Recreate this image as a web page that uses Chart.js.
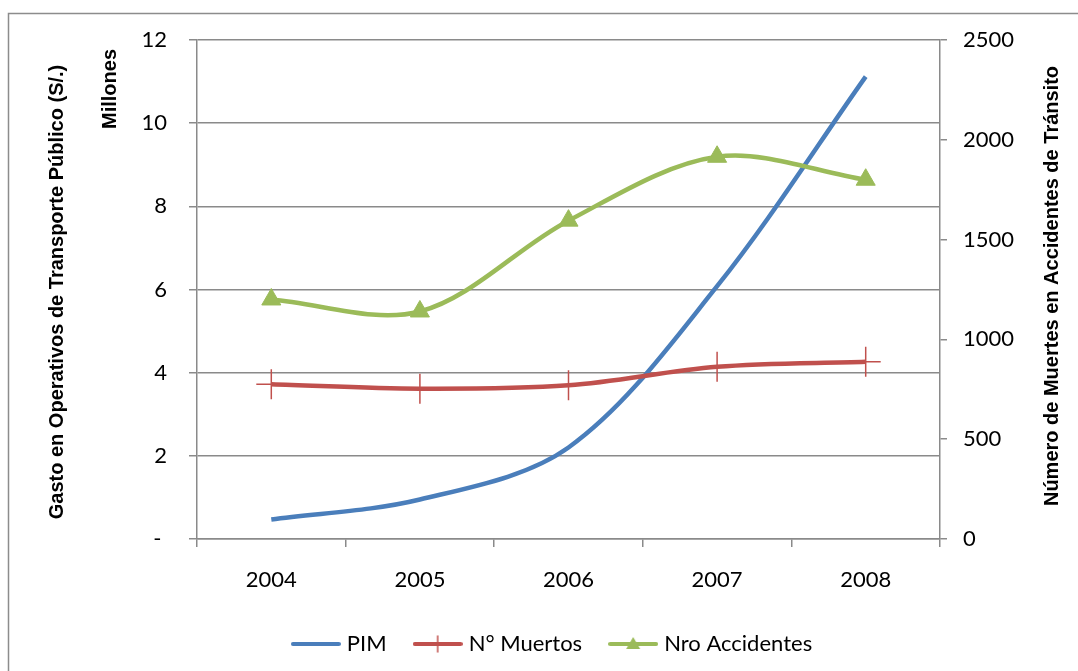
<!DOCTYPE html>
<html>
<head>
<meta charset="utf-8">
<script src="https://cdn.jsdelivr.net/npm/chart.js@4.4.1/dist/chart.umd.min.js"></script>
<style>
  html, body { margin: 0; padding: 0; background: #fff; }
  #wrap { width: 1078px; height: 671px; }
</style>
</head>
<body>
<div id="wrap"><canvas id="c" width="1078" height="671"></canvas></div>
<script>
// Años
const years = ['2004', '2005', '2006', '2007', '2008'];
// Gasto (millones de S/.) – eje izquierdo
const pim = [0.47, 0.95, 2.2, 6.08, 11.12];
// Muertes y accidentes – eje derecho
const muertos = [775, 753, 770, 863, 888];
const accidentes = [1200, 1140, 1595, 1915, 1800];
// Rangos de los ejes
const leftMax = 12, leftStep = 2;
const rightMax = 2500, rightStep = 500;

const BLUE = '#4a7ebb';
const RED = '#c0504d';
const GREEN = '#9bbb59';
const GRID = '#8a8a8a';
const FONT = 'Lato, "Open Sans", sans-serif';
const BOLD_FONT = 'bold 20px "Liberation Sans", Arial, sans-serif';

// Muestra de leyenda: línea con su marcador
function swatch(color, marker) {
  const c = document.createElement('canvas');
  c.width = 50; c.height = 24;
  const g = c.getContext('2d');
  g.strokeStyle = color; g.lineWidth = 4; g.lineCap = 'round';
  g.beginPath(); g.moveTo(2, 12); g.lineTo(48, 12); g.stroke();
  if (marker === 'cross') {
    g.lineWidth = 1.5;
    g.beginPath(); g.moveTo(25, 4); g.lineTo(25, 20); g.stroke();
  } else if (marker === 'triangle') {
    g.fillStyle = color;
    g.beginPath(); g.moveTo(25, 5); g.lineTo(32, 17); g.lineTo(18, 17); g.closePath(); g.fill();
  }
  return c;
}
const swatches = [swatch(BLUE, null), swatch(RED, 'cross'), swatch(GREEN, 'triangle')];

// Marco exterior y títulos de ejes
const frame = {
  id: 'frame',
  beforeDraw(chart) {
    const ctx = chart.ctx;
    ctx.save();
    ctx.fillStyle = '#fff';
    ctx.fillRect(0, 0, chart.width, chart.height);
    ctx.strokeStyle = '#8c8c8c';
    ctx.lineWidth = 1.5;
    ctx.strokeRect(8.5, 13.5, 1200, 800);
    ctx.restore();
  },
  afterDraw(chart) {
    const ctx = chart.ctx;
    ctx.save();
    ctx.fillStyle = '#000';
    ctx.font = BOLD_FONT;
    ctx.textBaseline = 'middle';

    ctx.save();
    ctx.translate(57, 292);
    ctx.rotate(-Math.PI / 2);
    ctx.textAlign = 'center';
    ctx.fillText('Gasto en Operativos de Transporte Público (S/.)', 0, 0);
    ctx.restore();

    ctx.save();
    ctx.translate(110, 49);
    ctx.rotate(-Math.PI / 2);
    ctx.textAlign = 'right';
    ctx.fillText('Millones', 0, 0);
    ctx.restore();

    ctx.save();
    ctx.translate(1052, 286);
    ctx.rotate(-Math.PI / 2);
    ctx.textAlign = 'center';
    ctx.fillText('Número de Muertes en Accidentes de Tránsito', 0, 0);
    ctx.restore();

    ctx.restore();
  }
};

const tickFont = { family: FONT, size: 22 };

new Chart(document.getElementById('c'), {
  type: 'line',
  data: {
    labels: years,
    datasets: [
      {
        label: 'PIM',
        data: pim,
        yAxisID: 'y',
        borderColor: BLUE,
        backgroundColor: BLUE,
        borderWidth: 4.5,
        pointRadius: 0,
        tension: 0.33,
        order: 3
      },
      {
        label: 'N° Muertos',
        data: muertos,
        yAxisID: 'y1',
        borderColor: RED,
        backgroundColor: RED,
        borderWidth: 4.5,
        pointStyle: 'cross',
        pointRadius: 15,
        pointBorderWidth: 1.5,
        pointBorderColor: RED,
        tension: 0.33,
        order: 2
      },
      {
        label: 'Nro Accidentes',
        data: accidentes,
        yAxisID: 'y1',
        borderColor: GREEN,
        backgroundColor: GREEN,
        borderWidth: 4.5,
        pointStyle: 'triangle',
        pointRadius: 11,
        pointBorderWidth: 1,
        pointBorderColor: GREEN,
        pointBackgroundColor: GREEN,
        tension: 0.33,
        order: 1
      }
    ]
  },
  options: {
    responsive: false,
    animation: false,
    devicePixelRatio: 1,
    layout: { padding: { top: 40, left: 30, right: 0, bottom: 6 } },
    plugins: {
      tooltip: { enabled: false },
      legend: {
        position: 'bottom',
        labels: {
          usePointStyle: true,
          pointStyleWidth: 40,
          padding: 31,
          color: '#000',
          font: { family: FONT, size: 22 },
          sort: (a, b) => a.datasetIndex - b.datasetIndex,
          generateLabels(chart) {
            const items = Chart.defaults.plugins.legend.labels.generateLabels(chart);
            items.forEach(it => { it.pointStyle = swatches[it.datasetIndex]; });
            return items;
          }
        }
      }
    },
    scales: {
      x: {
        offset: true,
        grid: { display: true, drawOnChartArea: false, offset: true, tickLength: 8, color: GRID, lineWidth: 1.5 },
        border: { display: true, color: GRID, width: 1.5 },
        ticks: { font: tickFont, color: '#000', padding: 20, maxRotation: 0 },
        afterFit(s) { s.height = 671 - 539 - s.chart.legend.height - 6; }
      },
      y: {
        position: 'left',
        min: 0, max: leftMax,
        ticks: {
          stepSize: leftStep,
          font: tickFont, color: '#000', padding: 22,
          callback: v => (v === 0 ? '- ' : String(v))
        },
        grid: { color: GRID, lineWidth: 1.5, tickLength: 8 },
        border: { display: true, color: GRID, width: 1.5 },
        afterFit(s) { s.width = 167; }
      },
      y1: {
        position: 'right',
        min: 0, max: rightMax,
        ticks: { stepSize: rightStep, font: tickFont, color: '#000', padding: 16, callback: v => String(v) },
        grid: { drawOnChartArea: false, color: GRID, lineWidth: 1.5, tickLength: 7 },
        border: { display: true, color: GRID, width: 1.5 },
        afterFit(s) { s.width = 138; }
      }
    }
  },
  plugins: [frame]
});
</script>
</body>
</html>
